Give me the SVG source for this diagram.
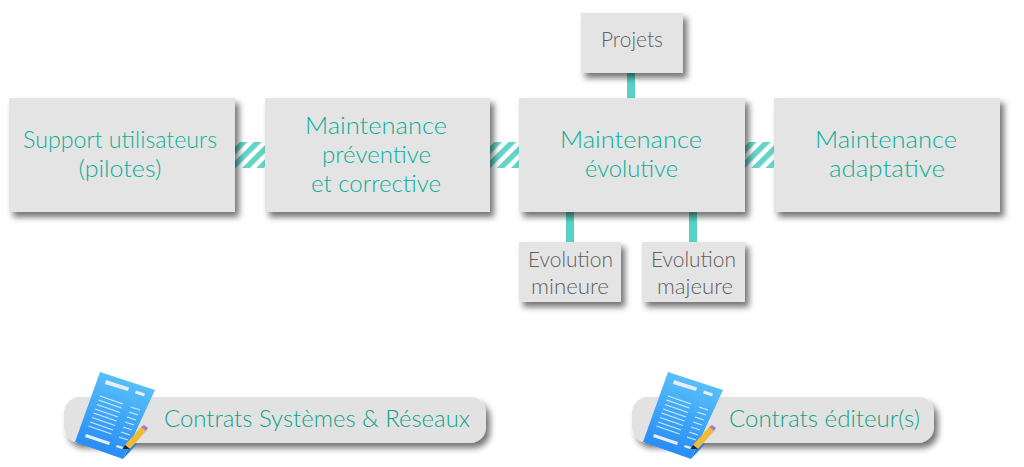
<svg xmlns="http://www.w3.org/2000/svg" width="1024" height="467" viewBox="0 0 1024 467">
<style>
.box{fill:#e4e4e4;filter:url(#sh)}
.pill{fill:#e2e2e2;filter:url(#sh)}
.t{font-family:"Lato","Liberation Sans",sans-serif;font-weight:300;text-anchor:middle}
.big{font-size:23px;fill:#08b09a}
.small{font-size:21px;fill:#5f5f5f}
.foot{font-size:22.500px;fill:#0fa48a}
.link{fill:#57d3c5}
.ln{stroke:#fff;stroke-opacity:.75;stroke-width:1.2}
.wl{fill:#e9eef5}
</style>
<defs>
<filter id="sh" x="-15%" y="-25%" width="130%" height="160%"><feDropShadow dx="4" dy="5" stdDeviation="3.200" flood-color="#000" flood-opacity=".55"/></filter>
<pattern id="hatch" width="10" height="10" patternUnits="userSpaceOnUse" patternTransform="rotate(45 0 0)"><rect width="10" height="10" fill="#fff"/><rect width="5.500" height="10" fill="#63d4c6"/></pattern>
<linearGradient id="doc" x1=".65" y1="0" x2=".35" y2="1"><stop offset="0" stop-color="#5cc4fb"/><stop offset="1" stop-color="#2489f5"/></linearGradient>
<g id="docicon">
<polygon points="100,372 155,390 123,459 75,442" fill="url(#doc)"/>
<polygon points="106,380 129,387.500 128,391 105,384" class="wl"/>
<polygon points="136,390.500 145,393.500 144,396.500 135,393.500" class="wl"/>
<path class="ln" d="M100,396 123,404M98.500,400 121.500,408M97,404.500 120,412.500M95,409 118,417M93.500,413 116.500,421M92,417.500 115,425.500M90,422 113,430M88.500,426 111.500,434M131,407 140,410M129,412 138,415M127,417 136,420M125,422 134,425M123,427 132,430M121,432 130,435M119,437 128,440"/>
<polygon points="86,434 110,442 109,445 85,437" class="wl"/>
<polygon points="117,445 123,447 122,449 116,447" class="wl"/>
<polygon points="123,459 131,442 137,444" fill="#1f7fe8"/>
<polygon points="125,445 141,427 146,431 130,449" fill="#f0b93a"/>
<polygon points="141,427 144,425 148,428 146,431" fill="#a77ac9"/>
<polygon points="125,445 130,449 123,449" fill="#222"/>
</g>
</defs>
<g id="connectors">
<rect x="235" y="142" width="30" height="26" fill="url(#hatch)"/>
<rect x="490" y="142" width="29" height="26" fill="url(#hatch)"/>
<rect x="745" y="142" width="29" height="26" fill="url(#hatch)"/>
<rect class="link" x="627" y="73" width="8" height="25"/>
<rect class="link" x="566" y="212" width="8" height="30"/>
<rect class="link" x="689" y="212" width="8" height="30"/>
</g>
<g id="support"><rect class="box" x="9" y="98" width="226" height="114"/><text class="t big" x="120" y="148" textLength="194" lengthAdjust="spacingAndGlyphs">Support utilisateurs</text><text class="t big" x="120" y="177" textLength="83" lengthAdjust="spacingAndGlyphs">(pilotes)</text></g>
<g id="preventive"><rect class="box" x="265" y="98" width="225" height="114"/><text class="t big" x="376" y="134" textLength="142" lengthAdjust="spacingAndGlyphs">Maintenance</text><text class="t big" x="376.500" y="163" textLength="109" lengthAdjust="spacingAndGlyphs">préventive</text><text class="t big" x="376" y="192" textLength="130" lengthAdjust="spacingAndGlyphs">et corrective</text></g>
<g id="evolutive"><rect class="box" x="519" y="98" width="226" height="114"/><text class="t big" x="631" y="148" textLength="142" lengthAdjust="spacingAndGlyphs">Maintenance</text><text class="t big" x="631.500" y="177" textLength="93" lengthAdjust="spacingAndGlyphs">évolutive</text></g>
<g id="adaptative"><rect class="box" x="774" y="98" width="226" height="114"/><text class="t big" x="886" y="148" textLength="142" lengthAdjust="spacingAndGlyphs">Maintenance</text><text class="t big" x="887" y="177" textLength="116" lengthAdjust="spacingAndGlyphs">adaptative</text></g>
<g id="projets"><rect class="box" x="581" y="13" width="102" height="60"/><text class="t small" x="632" y="47" textLength="62" lengthAdjust="spacingAndGlyphs">Projets</text></g>
<g id="mineure"><rect class="box" x="519" y="242" width="102" height="60"/><text class="t small" x="570.500" y="267" textLength="85" lengthAdjust="spacingAndGlyphs">Evolution</text><text class="t small" x="570" y="294" textLength="78" lengthAdjust="spacingAndGlyphs">mineure</text></g>
<g id="majeure"><rect class="box" x="642" y="242" width="103" height="60"/><text class="t small" x="693.500" y="267" textLength="85" lengthAdjust="spacingAndGlyphs">Evolution</text><text class="t small" x="695" y="294" textLength="76" lengthAdjust="spacingAndGlyphs">majeure</text></g>
<g id="contrats-sr"><rect class="pill" x="64" y="397" width="422" height="46" rx="16"/><use href="#docicon"/><text class="t foot" x="317" y="427" textLength="306" lengthAdjust="spacingAndGlyphs">Contrats Systèmes &amp; Réseaux</text></g>
<g id="contrats-ed"><rect class="pill" x="632" y="397" width="302" height="46" rx="16"/><use href="#docicon" x="568"/><text class="t foot" x="824.500" y="427" textLength="191" lengthAdjust="spacingAndGlyphs">Contrats éditeur(s)</text></g>
</svg>
